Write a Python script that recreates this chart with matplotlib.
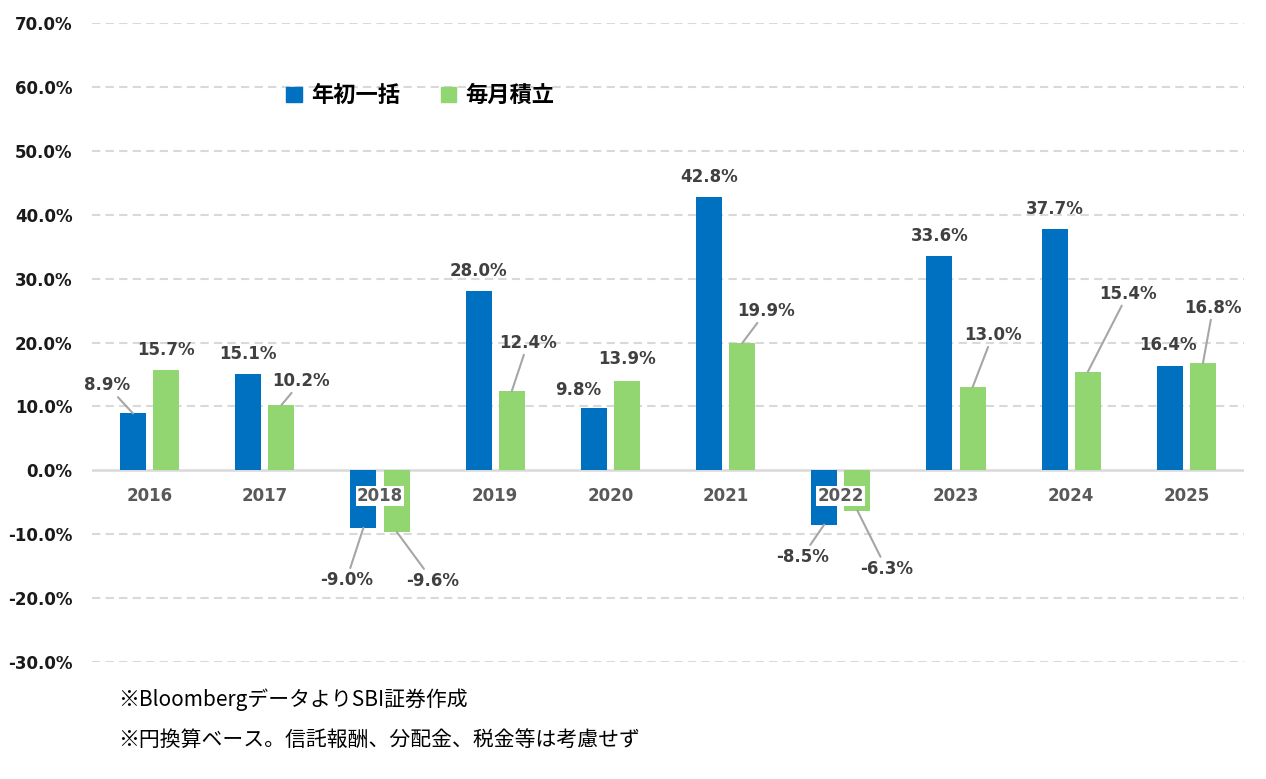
import numpy as np
import matplotlib.pyplot as plt
from matplotlib.patches import Patch

plt.rcParams['font.family'] = ['DejaVu Sans', 'Noto Sans CJK JP']

years = ["2016", "2017", "2018", "2019", "2020", "2021", "2022", "2023", "2024", "2025"]
lump_sum = [8.9, 15.1, -9.0, 28.0, 9.8, 42.8, -8.5, 33.6, 37.7, 16.4]
monthly = [15.7, 10.2, -9.6, 12.4, 13.9, 19.9, -6.3, 13.0, 15.4, 16.8]
series_names = ["年初一括", "毎月積立"]
notes = ["※BloombergデータよりSBI証券作成",
         "※円換算ベース。信託報酬、分配金、税金等は考慮せず"]

# label offsets (pixels from bar end) and whether a leader line is drawn
lump_off = [(-26, 28), (0, 20), (-17, -52), (0, 20), (-16, 18),
            (0, 20), (-22, -32), (0, 20), (0, 20), (-2, 21)]
lump_lead = [1, 0, 1, 0, 0, 0, 1, 0, 0, 0]
month_off = [(0, 20), (20, 24), (36, -49), (16, 48), (0, 22),
             (24, 32), (29, -58), (20, 52), (40, 78), (10, 55)]
month_lead = [0, 1, 1, 1, 0, 1, 1, 1, 1, 1]

blue = "#0070C0"
green = "#92D671"
grid_c = "#D9D9D9"

fig = plt.figure(figsize=(12.66, 7.79), dpi=100)
ax = fig.add_axes([92 / 1266, 117 / 779, 1152 / 1266, 639 / 779])

x = np.arange(len(years))
w = 0.226
off = 0.144

for v in range(-30, 71, 10):
    if v == 0:
        continue
    ax.axhline(v, color=grid_c, lw=1.5, dashes=(4, 2.5), zorder=0)
ax.axhline(0, color=grid_c, lw=1.8, zorder=0.5)

ax.bar(x - off, lump_sum, w, color=blue, zorder=1)
ax.bar(x + off, monthly, w, color=green, zorder=1)


def add_labels(xs, vals, offs, leads):
    for xi, v, (dx, dy), ld in zip(xs, vals, offs, leads):
        kw = {}
        if ld:
            kw["arrowprops"] = dict(arrowstyle="-", color="#A6A6A6", lw=1.5,
                                    shrinkA=0, shrinkB=0)
        ax.annotate(f"{v:.1f}%", xy=(xi, v), xytext=(dx, dy),
                    textcoords="offset pixels", ha="center", va="center",
                    fontsize=12, fontweight="bold", color="#404040",
                    zorder=5, **kw)


add_labels(x - off, lump_sum, lump_off, lump_lead)
add_labels(x + off, monthly, month_off, month_lead)

# move the x axis to zero first (this resets tick label styles)
ax.spines['bottom'].set_position(('data', 0))
for s in ax.spines.values():
    s.set_visible(False)

ax.set_xlim(-0.5, 9.5)
ax.set_ylim(-30, 70)
ax.set_yticks(range(-30, 71, 10))
ax.set_yticklabels([f"{v:.1f}%" for v in range(-30, 71, 10)],
                   fontsize=12, fontweight="bold", color="#1A1A1A")
ax.set_xticks(x)
ax.set_xticklabels(years, fontsize=12, fontweight="bold", color="#595959")
ax.tick_params(axis="y", length=0, pad=14)
ax.tick_params(axis="x", length=0, pad=12)
for lab, v1, v2 in zip(ax.get_xticklabels(), lump_sum, monthly):
    if v1 < 0 or v2 < 0:
        lab.set_bbox(dict(facecolor="white", edgecolor="none", pad=1))

handles = [Patch(color=blue), Patch(color=green)]
ax.legend(handles, series_names, ncol=2, loc="center",
          bbox_to_anchor=(0.285, 0.886), frameon=False,
          handlelength=0.7, handleheight=0.7, handletextpad=0.4,
          columnspacing=1.85,
          prop=dict(family=['Noto Sans CJK JP', 'DejaVu Sans'], weight='bold', size=16))

fig.text(118 / 1266, 1 - 700 / 779, notes[0], fontsize=15, va="center",
         family=['Noto Sans CJK JP', 'DejaVu Sans'])
fig.text(118 / 1266, 1 - 740 / 779, notes[1], fontsize=15, va="center",
         family=['Noto Sans CJK JP', 'DejaVu Sans'])

fig.savefig("out.png", dpi=100)
